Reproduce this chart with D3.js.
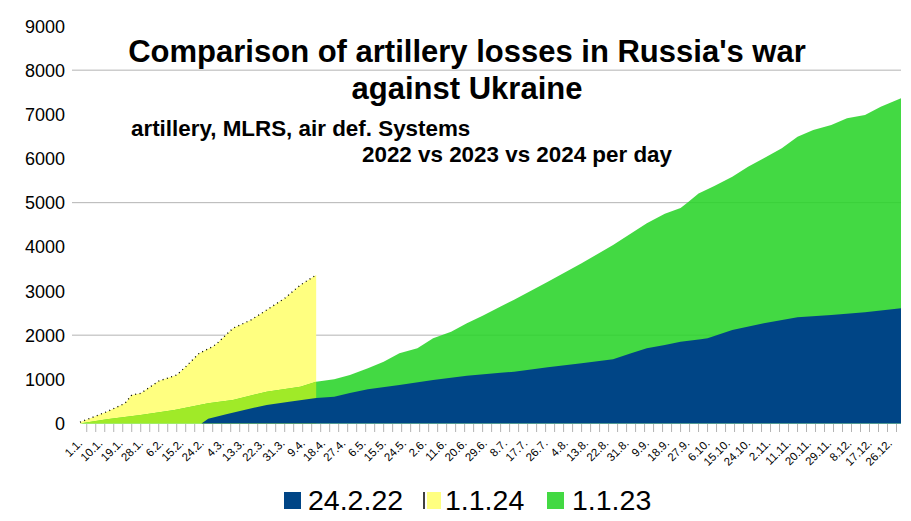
<!DOCTYPE html>
<html><head><meta charset="utf-8">
<script src="https://cdn.jsdelivr.net/npm/d3@7"></script>
<style>
body{margin:0;background:#fff}
svg{display:block}
text{font-family:"Liberation Sans",Arial,sans-serif}
</style>
</head><body>
<svg id="c" width="911" height="521"></svg>
<script>
// ---- data ----
const tickLabels = ["1.1.","10.1.","19.1.","28.1.","6.2.","15.2.","24.2.","4.3.","13.3.","22.3.","31.3.","9.4.","18.4.","27.4.","6.5.","15.5.","24.5.","2.6.","11.6.","20.6.","29.6.","8.7.","17.7.","26.7.","4.8.","13.8.","22.8.","31.8.","9.9.","18.9.","27.9.","6.10.","15.10.","24.10.","2.11.","11.11.","20.11.","29.11.","8.12.","17.12.","26.12."];
const yTicks = [0,1000,2000,3000,4000,5000,6000,7000,8000,9000];
const gridValues = [2000,5000,8000];
const seriesNames = ["24.2.22","1.1.24","1.1.23"];
// [day of year, cumulative losses]
const series2022 = [[54,0],[57,110],[65,210],[73,306],[83,419],[93,494],[105,577],[113,607],[120,690],[128,774],[142,872],[157,985],[172,1082],[187,1150],[193,1173],[208,1272],[223,1363],[237,1454],[245,1590],[252,1703],[260,1778],[267,1853],[276,1907],[279,1929],[290,2117],[304,2268],[319,2404],[334,2457],[349,2518],[365,2609]];
const series2024 = [[0,30],[12,268],[20,457],[23,645],[27,683],[35,960],[43,1098],[47,1286],[53,1590],[59,1740],[61,1816],[68,2156],[76,2344],[83,2570],[91,2835],[98,3136],[105,3363]];
const series2023 = [[0,0],[12,95],[27,192],[42,306],[57,457],[68,532],[83,720],[98,833],[105,947],[113,1000],[120,1098],[128,1250],[135,1400],[142,1590],[150,1703],[157,1929],[165,2079],[172,2268],[179,2440],[187,2650],[193,2800],[208,3211],[223,3627],[237,4042],[252,4533],[260,4750],[267,4880],[270,5000],[275,5210],[282,5378],[290,5589],[297,5815],[304,6005],[312,6232],[319,6495],[326,6646],[334,6760],[341,6911],[349,6986],[356,7174],[365,7364]];

// ---- layout ----
const svg = d3.select("#c");
const x = d3.scaleLinear().domain([0,365]).range([80,901]);
const y = d3.scaleLinear().domain([0,9000]).range([423.5,26]);
const cBlue="#004586", cGreen="#29d429", cYellow="#ffff80", cLime="#a0ea28", cGreenLegend="#43d943";

const area = d3.area().x(d=>x(d[0])).y0(y(0)).y1(d=>y(d[1]));
const line = d3.line().x(d=>x(d[0])).y(d=>y(d[1]));

// gridlines
svg.append("g").selectAll("line").data(gridValues).join("line")
  .attr("x1",72).attr("x2",901).attr("y1",d=>y(d)).attr("y2",d=>y(d))
  .attr("stroke","#b3b3b3").attr("stroke-width",1);

// yellow 2024 (opaque)
svg.append("path").datum(series2024).attr("d",area).attr("fill",cYellow);
// green 2023 (slightly translucent so gridlines show faintly)
svg.append("path").datum(series2023).attr("d",area).attr("fill",cGreen).attr("fill-opacity",0.88);
// overlap green∩yellow = lime
svg.append("clipPath").attr("id","yclip").append("path").datum(series2024).attr("d",area);
svg.append("path").datum(series2023).attr("d",area).attr("fill",cLime).attr("clip-path","url(#yclip)");
// blue 2022
svg.append("path").datum(series2022).attr("d",area).attr("fill",cBlue);
// dotted top of yellow
svg.append("path").datum(series2024).attr("d",line).attr("fill","none")
  .attr("stroke","#000").attr("stroke-width",1.3).attr("stroke-dasharray","1,3.5");

// x ticks
const tickDays = d3.range(3,366,4);
svg.append("g").selectAll("line").data(tickDays).join("line")
  .attr("x1",d=>x(d)).attr("x2",d=>x(d)).attr("y1",424).attr("y2",432)
  .attr("stroke","#b3b3b3").attr("stroke-width",1);

// x labels
svg.append("g").selectAll("text").data(tickLabels).join("text")
  .attr("transform",(d,i)=>`translate(${x(i*9)+3},444) rotate(-45)`)
  .attr("text-anchor","end").attr("font-size",11.5).attr("fill","#000").text(d=>d);

// y labels
svg.append("g").selectAll("text").data(yTicks).join("text")
  .attr("x",65).attr("y",d=>y(d)+6.5).attr("text-anchor","end")
  .attr("font-size",18).attr("fill","#000").text(d=>d);

// titles
const tg = svg.append("g").attr("font-weight","bold").attr("fill","#000");
tg.append("text").attr("x",467).attr("y",62).attr("text-anchor","middle").attr("font-size",31).text("Comparison of artillery losses in Russia's war");
tg.append("text").attr("x",467).attr("y",99).attr("text-anchor","middle").attr("font-size",31).text("against Ukraine");
tg.append("text").attr("x",131).attr("y",136).attr("font-size",22.4).text("artillery, MLRS, air def. Systems");
tg.append("text").attr("x",362).attr("y",162).attr("font-size",22.4).text("2022 vs 2023 vs 2024 per day");

// legend
const lg = svg.append("g");
lg.append("rect").attr("x",284).attr("y",492).attr("width",17).attr("height",17).attr("fill",cBlue);
lg.append("text").attr("x",308).attr("y",510).attr("font-size",28.5).text(seriesNames[0]);
lg.append("line").attr("x1",424).attr("x2",424).attr("y1",492).attr("y2",509).attr("stroke","#000").attr("stroke-width",1.5);
lg.append("rect").attr("x",427).attr("y",492).attr("width",14).attr("height",17).attr("fill",cYellow);
lg.append("text").attr("x",445).attr("y",510).attr("font-size",28.5).text(seriesNames[1]);
lg.append("rect").attr("x",547).attr("y",492).attr("width",17).attr("height",17).attr("fill",cGreenLegend);
lg.append("text").attr("x",572).attr("y",510).attr("font-size",28.5).text(seriesNames[2]);
</script>
</body></html>
